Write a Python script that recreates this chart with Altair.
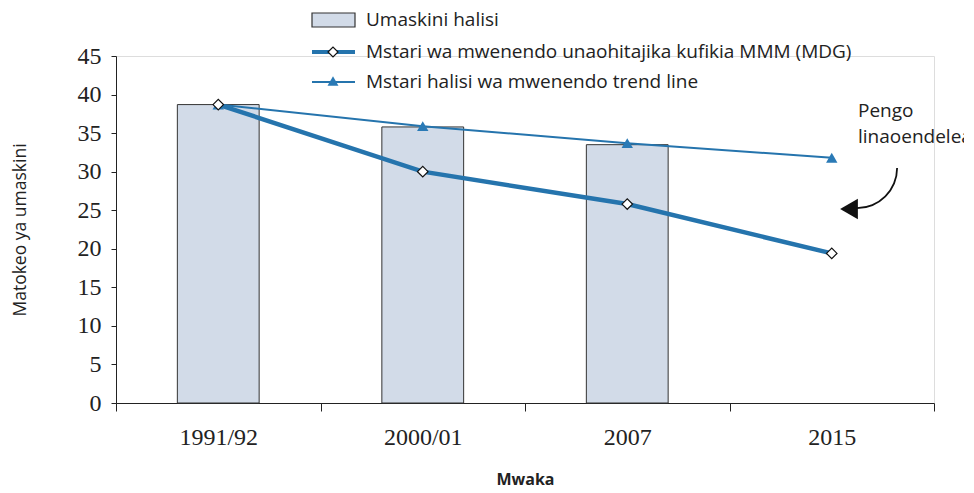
import math
import altair as alt
import pandas as pd

years = ["1991/92", "2000/01", "2007", "2015"]
actual_poverty = [38.7, 35.8, 33.5, None]
mdg_path = [38.7, 30.0, 25.8, 19.4]
trend_path = [38.7, 35.9, 33.7, 31.8]

legend_labels = [
    "Umaskini halisi",
    "Mstari wa mwenendo unaohitajika kufikia MMM (MDG)",
    "Mstari halisi wa mwenendo trend line",
]
note_lines = ["Pengo", "linaoendelea"]

BAR_FILL = "#d2dbe8"
LINE_BLUE = "#2574ad"
TRI_BLUE = "#2a7ab6"
SANS = "Open Sans"
SERIF = "Liberation Serif"

W = 818
H = 347
TOP = 48

df = pd.DataFrame({
    "year": years,
    "actual": actual_poverty,
    "mdg": mdg_path,
    "trend": trend_path,
})
bars_df = df.dropna(subset=["actual"])

xaxis = alt.Axis(
    title="Mwaka",
    tickBand="extent",
    labelAngle=0,
    labelFont=SERIF,
    labelFontSize=24,
    labelColor="#222",
    labelPadding=14,
    tickSize=8,
    tickColor="#222",
    domainColor="#222",
    titleFont=SANS,
    titleFontSize=16,
    titleFontWeight="bold",
    titleColor="#222",
    titleX=W / 2,
    titleY=76,
    titleBaseline="middle",
)
xscale = alt.Scale(paddingInner=0, paddingOuter=0)
yscale = alt.Scale(domain=[0, 45], nice=False)
yaxis = alt.Axis(
    title="Matokeo ya umaskini",
    values=[0, 5, 10, 15, 20, 25, 30, 35, 40, 45],
    labelOverlap=False,
    grid=False,
    labelFont=SERIF,
    labelFontSize=24,
    labelColor="#222",
    labelPadding=10,
    tickSize=5,
    tickColor="#222",
    domainColor="#222",
    titleFont=SANS,
    titleFontSize=17.5,
    titleFontWeight="normal",
    titleColor="#222",
    titleX=-96,
    titleY=H / 2,
    titleAngle=-90,
    titleAlign="center",
    titleBaseline="middle",
)


def X():
    return alt.X("year:N", sort=years, scale=xscale, axis=xaxis)


def Y(field):
    return alt.Y(f"{field}:Q", scale=yscale, axis=yaxis)


base = alt.Chart(df)

bars = alt.Chart(bars_df).mark_bar(
    width=alt.RelativeBandSize(0.4), fill=BAR_FILL, stroke="#333", strokeWidth=1
).encode(x=X(), y=Y("actual"))

trend_line = base.mark_line(color=LINE_BLUE, strokeWidth=2).encode(x=X(), y=Y("trend"))
mdg_line = base.mark_line(color=LINE_BLUE, strokeWidth=4.5).encode(x=X(), y=Y("mdg"))
trend_pts = base.mark_point(
    shape="triangle-up", filled=True, color=TRI_BLUE, size=130, opacity=1
).encode(x=X(), y=Y("trend"))
mdg_pts = base.mark_point(
    shape="diamond", filled=True, fill="white", stroke="#111", strokeWidth=1.2, size=110, opacity=1
).encode(x=X(), y=Y("mdg"))

one = alt.Data(values=[{"k": 0}])

# legend (drawn manually)
leg_rect = alt.Chart(one).mark_rect(fill=BAR_FILL, stroke="#333", strokeWidth=1.2).encode(
    x=alt.value(196), x2=alt.value(239), y=alt.value(-43), y2=alt.value(-29)
)
leg_rule1 = alt.Chart(one).mark_rule(color=LINE_BLUE, strokeWidth=4).encode(
    x=alt.value(196), x2=alt.value(239), y=alt.value(-4)
)
leg_dia = alt.Chart(one).mark_point(
    shape="diamond", filled=True, fill="white", stroke="#111", strokeWidth=1.2, size=100, opacity=1
).encode(x=alt.value(217), y=alt.value(-4))
leg_rule2 = alt.Chart(one).mark_rule(color=LINE_BLUE, strokeWidth=2).encode(
    x=alt.value(196), x2=alt.value(239), y=alt.value(26)
)
leg_tri = alt.Chart(one).mark_point(
    shape="triangle-up", filled=True, color=TRI_BLUE, size=120, opacity=1
).encode(x=alt.value(217), y=alt.value(25))

leg_texts = []
for label, yy in zip(legend_labels, [-36, -4, 26]):
    leg_texts.append(
        alt.Chart(one).mark_text(
            text=label, align="left", baseline="middle", font=SANS, fontSize=19, color="#222"
        ).encode(x=alt.value(250), y=alt.value(yy))
    )

# annotation
note_texts = []
for line, yy in zip(note_lines, [55, 81]):
    note_texts.append(
        alt.Chart(one).mark_text(
            text=line, align="left", baseline="middle", font=SANS, fontSize=19, color="#222"
        ).encode(x=alt.value(742), y=alt.value(yy))
    )
arrow_arc = alt.Chart(one).mark_arc(
    radius=41, radius2=39.2, theta=math.pi / 2, theta2=math.pi, color="#111"
).encode(x=alt.value(741), y=alt.value(112))
arrow_head = alt.Chart(one).mark_point(
    shape="triangle-left", filled=True, color="#111", size=420, opacity=1
).encode(x=alt.value(733), y=alt.value(153))

chart = alt.layer(
    bars, trend_line, mdg_line, trend_pts, mdg_pts,
    leg_rect, leg_rule1, leg_dia, leg_rule2, leg_tri, *leg_texts,
    *note_texts, arrow_arc, arrow_head,
).properties(
    width=W,
    height=H,
    autosize=alt.AutoSizeParams(type="none"),
    padding={"left": 108, "top": TOP, "right": 30, "bottom": 82},
).configure_view(stroke=None).configure(background="white")

chart.save("out.html", embed_options={"renderer": "svg", "actions": False})
